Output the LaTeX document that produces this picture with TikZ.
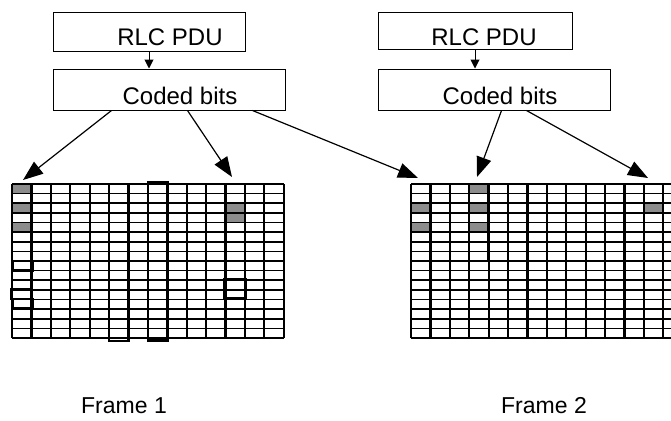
\documentclass[tikz,border=0pt]{standalone}
\usepackage{fontspec}
\setmainfont{Liberation Sans}
\usetikzlibrary{arrows.meta,calc}
\begin{document}
\begin{tikzpicture}[x=1pt,y=-1pt,
  box/.style={draw, line width=1pt, inner sep=0pt},
  lbl/.style={inner sep=0pt, font=\fontsize{24}{28}\selectfont},
  frm/.style={inner sep=0pt, font=\fontsize{23}{27}\selectfont},
  bigarrow/.style={line width=1.2pt, -{Triangle[length=20pt,width=15pt]}},
  smallarrow/.style={line width=1pt, -{Triangle[length=9pt,width=9pt]}},
  vline/.style={line width=2.2pt},
  hline/.style={line width=1.6pt},
  midline/.style={line width=2.6pt},
  thickcol/.style={line width=2.6pt},
  graycell/.style={fill=black!45}]
\path[use as bounding box, clip] (0,0) rectangle (671,420);
\fill[white] (0,0) rectangle (671,420);

% ---------- boxes ----------
\node[box, minimum width=192pt, minimum height=39pt] (rlc1) at (149,32.5) {};
\node[lbl] (rlc1t) at (170,37.5) {RLC PDU};
\node[box, minimum width=232pt, minimum height=41pt] (cod1) at (169,89.5) {};
\node[lbl] (cod1t) at (180,96) {Coded bits};

\node[box, minimum width=194pt, minimum height=37pt] (rlc2) at (475,31.5) {};
\node[lbl] (rlc2t) at (484,37.5) {RLC PDU};
\node[box, minimum width=232pt, minimum height=41pt] (cod2) at (494,89.5) {};
\node[lbl] (cod2t) at (500,96) {Coded bits};

% ---------- grids ----------
% gray cells, left grid (x0=12, w=19.4, y0=184, h=9.625)
\foreach \c/\r in {0/0,0/2,0/4,11/2,11/3}
  \fill[graycell] ({12+\c*19.4},{184+\r*9.625}) rectangle ++(19.4,9.625);
% gray cells, right grid (x0=411)
\foreach \c/\r in {0/2,0/4,3/0,3/2,3/4,12/2}
  \fill[graycell] ({411+\c*19.4},{184+\r*9.625}) rectangle ++(19.4,9.625);

\foreach \x in {12,411}{
  \foreach \c in {0,...,14}
    \draw[vline] ({\x+\c*19.4},184) -- ++(0,154);
  \foreach \r in {0,...,16}
    \draw[hline] (\x,{184+\r*9.625}) -- ++(271.6,0);
  \draw[midline] (\x,261) -- ++(271.6,0);
}

% irregular thick outlines, left grid
\draw[thickcol] (147.8,182.5) rectangle (167.2,340.5);
\draw[line width=2.2pt] (109,261) rectangle (128.4,341);
\draw[line width=2.2pt] (12.5,261) rectangle (33,270.5);
\draw[line width=2pt] (11,289) rectangle (31.4,299);
\draw[line width=2.2pt] (12.5,299) rectangle (33,308.5);
\draw[line width=2pt] (224,279) rectangle (246,298);
% irregular thick outlines, right grid
\draw[line width=2.4pt] (469.2,184) rectangle (488.6,261);
\draw[line width=2.4pt] (449.8,261) -- (449.8,338);

% ---------- arrows ----------
\draw[smallarrow] (rlc1.south) -- (rlc1.south |- cod1.north);
\draw[smallarrow] (rlc2.south) -- (rlc2.south |- cod2.north);

\coordinate (t1) at (23,180);
\coordinate (t2) at (232,177);
\coordinate (t3) at (418,178);
\coordinate (t4) at (477,177);
\coordinate (t5) at (648,178);

\draw[bigarrow] ($(cod1.south west)+(59,0)$) -- (t1);
\draw[bigarrow] ($(cod1.south west)+(135,0)$) -- (t2);
\draw[bigarrow] ($(cod1.south west)+(200,0)$) -- (t3);
\draw[bigarrow] ($(cod2.south west)+(124,0)$) -- (t4);
\draw[bigarrow] ($(cod2.south west)+(149,0)$) -- (t5);

% ---------- frame labels ----------
\node[frm] (f1) at (124,406) {Frame 1};
\node[frm] (f2) at (544,406) {Frame 2};
\end{tikzpicture}
\end{document}
